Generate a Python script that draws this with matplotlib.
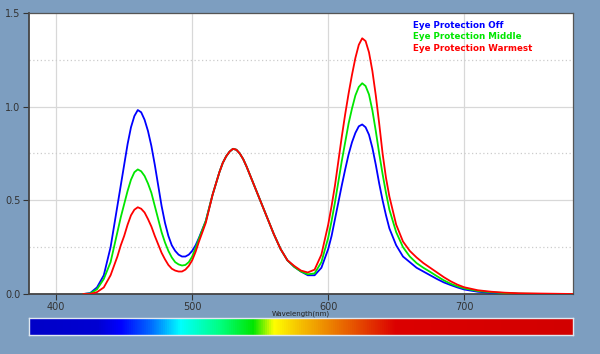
import numpy as np
import matplotlib
matplotlib.use("Agg")
import matplotlib.pyplot as plt
from matplotlib.colors import LinearSegmentedColormap

# wavelength grid (nm), denser around the peaks
wavelength = [420, 425, 430, 435, 440,
              442.5, 445, 447.5, 450, 452.5, 455, 457.5, 460, 462.5, 465, 467.5,
              470, 472.5, 475, 477.5, 480, 482.5, 485, 487.5, 490, 492.5, 495,
              497.5, 500, 502.5, 505,
              510, 515, 520,
              522.5, 525, 527.5, 530, 532.5, 535, 537.5, 540,
              545, 550, 555, 560, 565, 570, 575, 580, 585, 590, 595, 600,
              602.5, 605, 607.5, 610, 612.5, 615, 617.5, 620, 622.5, 625, 627.5,
              630, 632.5, 635, 637.5, 640, 642.5, 645,
              650, 655, 660, 665, 670, 675, 680, 685, 690, 695, 700,
              710, 720, 730, 740, 750, 760, 770, 780]

# relative spectral power
eye_off = [0.0, 0.005, 0.035, 0.10, 0.25,
           0.36, 0.47, 0.58, 0.69, 0.80, 0.89, 0.95, 0.982, 0.97, 0.93, 0.87,
           0.79, 0.69, 0.58, 0.47, 0.38, 0.31, 0.26, 0.23, 0.21, 0.20, 0.20,
           0.21, 0.23, 0.26, 0.30,
           0.39, 0.53, 0.65,
           0.70, 0.735, 0.76, 0.775, 0.77, 0.75, 0.72, 0.68,
           0.59, 0.50, 0.41, 0.32, 0.24, 0.18, 0.145, 0.12, 0.10, 0.10, 0.14, 0.24,
           0.31, 0.40, 0.49, 0.58, 0.665, 0.745, 0.81, 0.86, 0.895, 0.905, 0.89,
           0.85, 0.78, 0.69, 0.59, 0.50, 0.42, 0.35,
           0.26, 0.20, 0.17, 0.14, 0.12, 0.10, 0.08, 0.062, 0.048, 0.035, 0.024,
           0.012, 0.006, 0.003, 0.001, 0.0, 0.0, 0.0, 0.0]
eye_middle = [0.0, 0.003, 0.025, 0.08, 0.17,
              0.25, 0.33, 0.41, 0.48, 0.55, 0.61, 0.65, 0.665, 0.655, 0.63, 0.59,
              0.54, 0.47, 0.40, 0.33, 0.275, 0.23, 0.195, 0.17, 0.158, 0.152, 0.155,
              0.17, 0.20, 0.245, 0.295,
              0.39, 0.53, 0.65,
              0.70, 0.735, 0.76, 0.775, 0.77, 0.75, 0.72, 0.68,
              0.59, 0.50, 0.41, 0.32, 0.24, 0.18, 0.145, 0.12, 0.105, 0.11, 0.17, 0.30,
              0.39, 0.49, 0.60, 0.71, 0.81, 0.91, 0.99, 1.06, 1.105, 1.125, 1.11,
              1.065, 0.98, 0.87, 0.75, 0.64, 0.54, 0.45,
              0.33, 0.25, 0.20, 0.165, 0.14, 0.118, 0.095, 0.073, 0.055, 0.041, 0.03,
              0.016, 0.009, 0.005, 0.002, 0.001, 0.0, 0.0, 0.0]
eye_warmest = [0.0, 0.0, 0.01, 0.035, 0.10,
               0.15, 0.20, 0.26, 0.31, 0.37, 0.42, 0.45, 0.463, 0.455, 0.435, 0.40,
               0.36, 0.31, 0.265, 0.22, 0.185, 0.155, 0.135, 0.125, 0.12, 0.12, 0.13,
               0.15, 0.18, 0.225, 0.28,
               0.38, 0.53, 0.65,
               0.70, 0.735, 0.76, 0.775, 0.77, 0.75, 0.72, 0.68,
               0.59, 0.50, 0.41, 0.32, 0.24, 0.18, 0.15, 0.125, 0.115, 0.13, 0.21, 0.37,
               0.47, 0.58, 0.71, 0.84, 0.96, 1.07, 1.17, 1.26, 1.33, 1.365, 1.35,
               1.29, 1.19, 1.06, 0.91, 0.75, 0.62, 0.52,
               0.37, 0.28, 0.23, 0.195, 0.165, 0.14, 0.115, 0.09, 0.068, 0.05, 0.036,
               0.02, 0.012, 0.007, 0.004, 0.003, 0.002, 0.001, 0.0]

series_names = ["Eye Protection Off", "Eye Protection Middle", "Eye Protection Warmest"]
series_colors = ["#0000ff", "#00e600", "#ff0000"]

# spectrum strip colour stops (nm, rgb)
spec_nm = [380, 430, 447, 470, 491, 520, 545, 560, 580, 605, 650, 780]
spec_rgb = [(0, 0, 200), (0, 0, 210), (0, 0, 255), (0, 110, 255), (0, 255, 255),
            (0, 255, 130), (0, 230, 0), (255, 255, 0), (245, 190, 0),
            (235, 120, 0), (220, 0, 0), (210, 0, 0)]

bg = "#7d9ec0"
fig = plt.figure(figsize=(6.0, 3.54), dpi=100, facecolor=bg)
ax = fig.add_axes([0.0483, 0.1695, 0.9067, 0.7938])
ax.set_facecolor("white")

for vals, name, col in zip([eye_off, eye_middle, eye_warmest], series_names, series_colors):
    ax.plot(wavelength, vals, color=col, lw=1.3, label=name, zorder=3,
            solid_joinstyle="round")

ax.set_xlim(380, 780)
ax.set_ylim(0, 1.5)
ax.set_xticks([400, 500, 600, 700])
ax.set_yticks([0, 0.5, 1.0, 1.5])
ax.set_yticklabels(["0.0", "0.5", "1.0", "1.5"])
ax.set_yticks([0.25, 0.75, 1.25], minor=True)
ax.tick_params(axis="both", which="major", labelsize=7, colors="#333333",
               length=4, width=0.8, direction="out", pad=2)
ax.tick_params(axis="y", which="minor", length=0)
ax.grid(True, which="major", color="#d8d8d8", lw=0.9)
ax.grid(True, which="minor", axis="y", color="#cccccc", lw=0.9, linestyle=(0, (1, 2)))
for s in ["left", "bottom"]:
    ax.spines[s].set_color("#444444")
    ax.spines[s].set_linewidth(1.3)
for s in ["top", "right"]:
    ax.spines[s].set_color("#555555")
    ax.spines[s].set_linewidth(0.9)

fig.text(301 / 600, 1 - 314 / 354, "Wavelength(nm)", fontsize=5,
         color="#222222", ha="center", va="center")

# legend as coloured text
for i, (name, col) in enumerate(zip(series_names, series_colors)):
    fig.text(413 / 600, 1 - (25 + i * 11.7) / 354, name, color=col,
             fontsize=6.3, fontweight="bold", va="center", ha="left")

# spectrum strip
cax = fig.add_axes([29 / 600, 19 / 354, 544 / 600, 17 / 354])
pos = [(n - spec_nm[0]) / (spec_nm[-1] - spec_nm[0]) for n in spec_nm]
cmap = LinearSegmentedColormap.from_list(
    "spec", list(zip(pos, [tuple(c / 255 for c in rgb) for rgb in spec_rgb])))
grad = np.linspace(0, 1, 512)[None, :]
cax.imshow(grad, aspect="auto", cmap=cmap, extent=[0, 1, 0, 1])
cax.set_xticks([])
cax.set_yticks([])
for s in cax.spines.values():
    s.set_color("#e0e8f0")
    s.set_linewidth(1.0)

fig.savefig("out.png", dpi=100, facecolor=bg)
